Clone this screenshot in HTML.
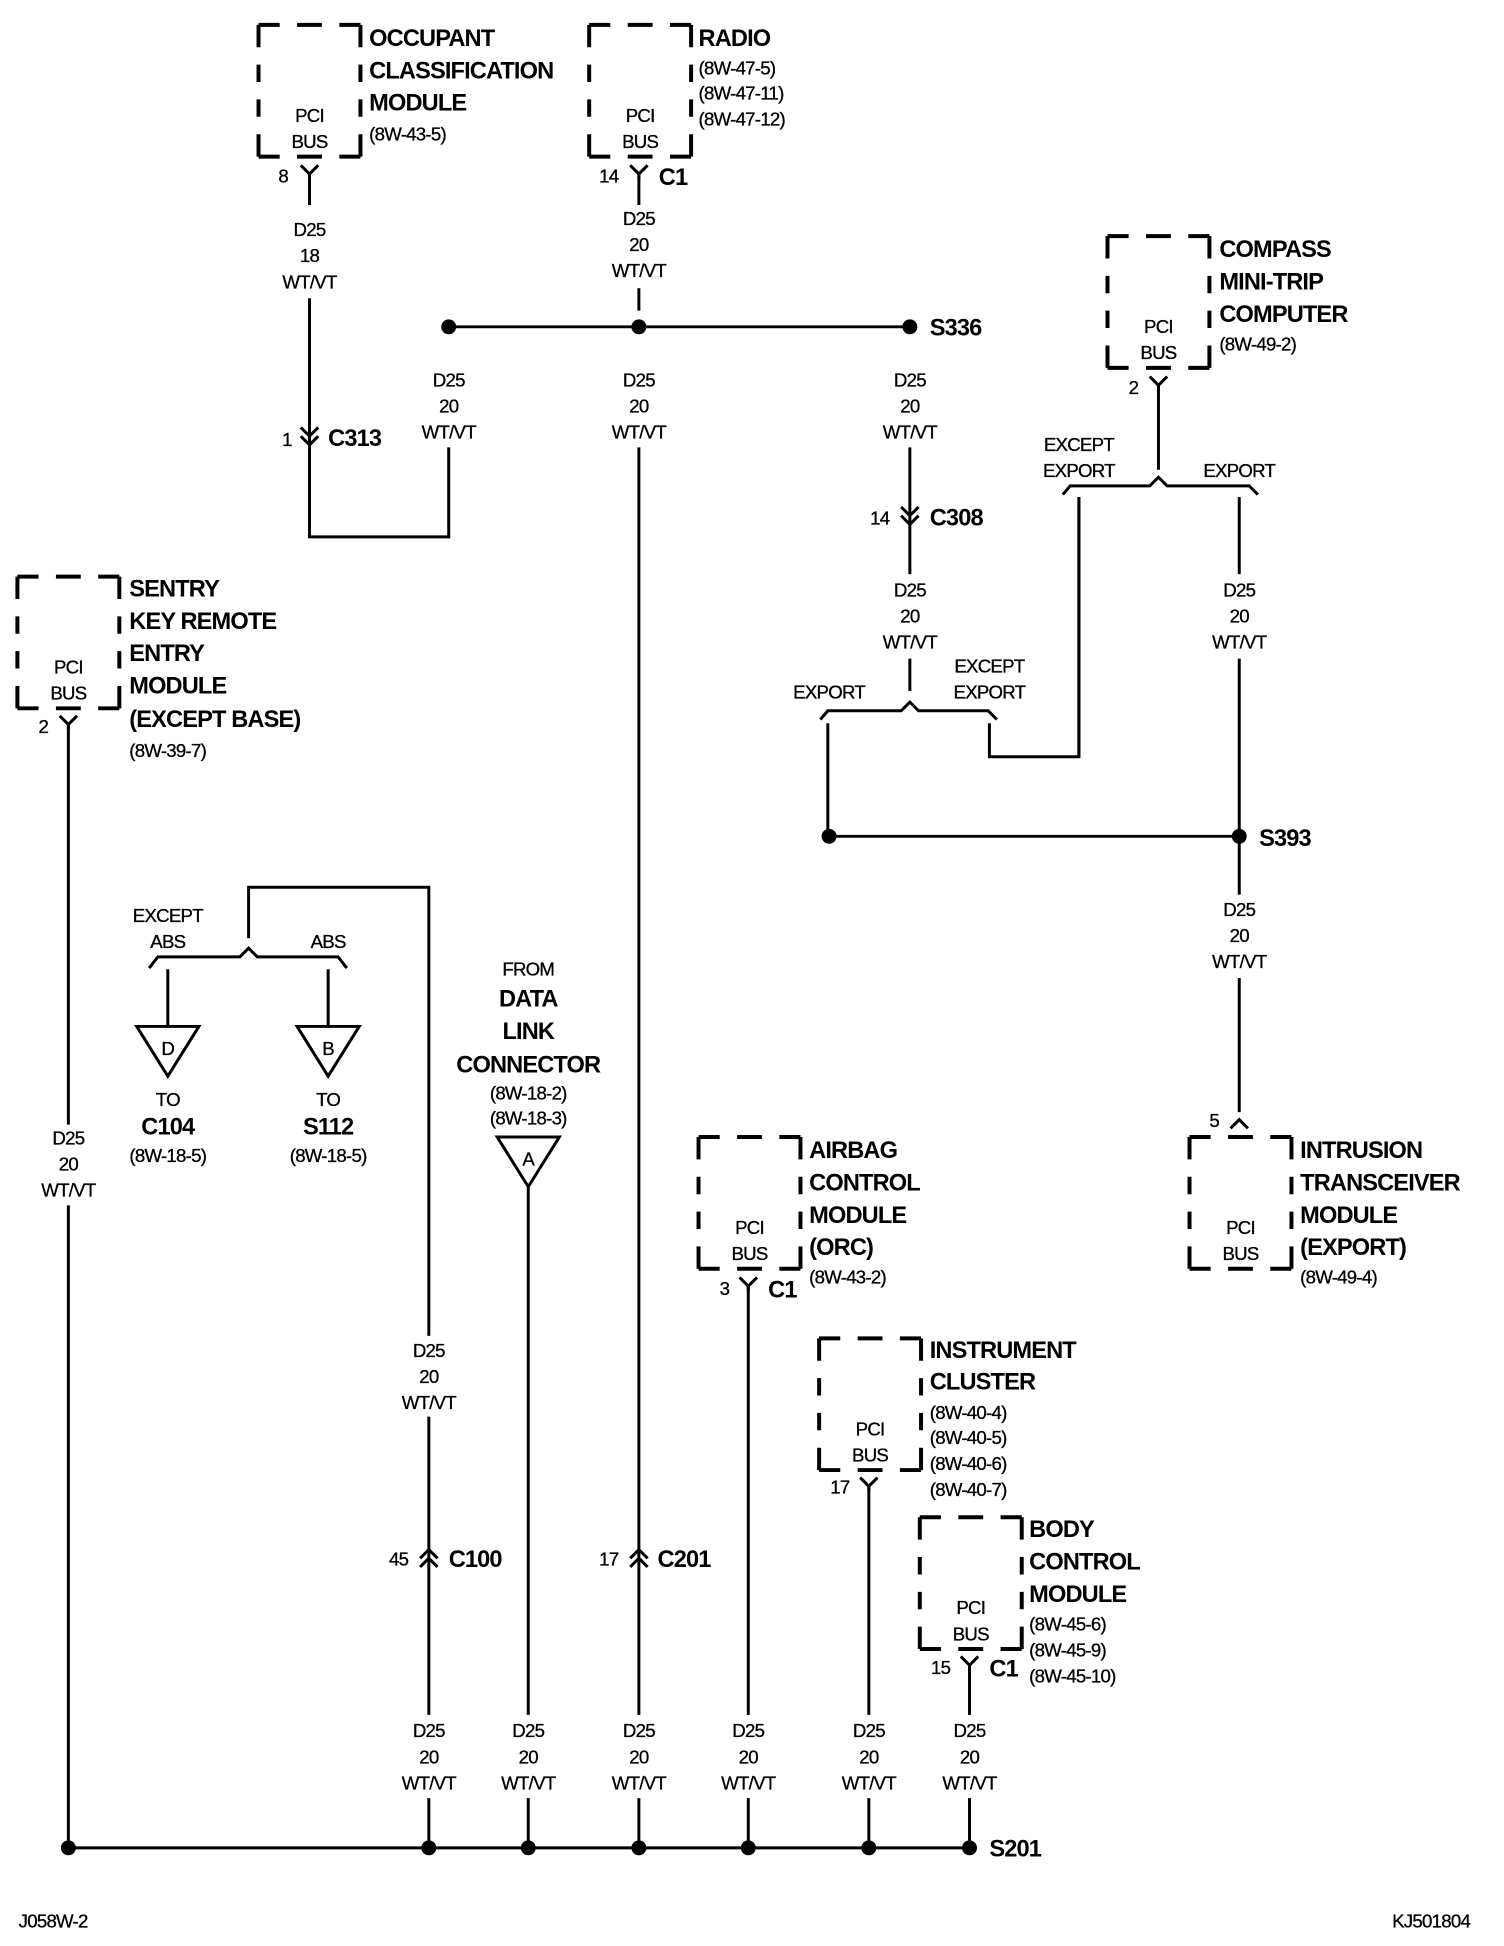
<!DOCTYPE html>
<html><head><meta charset="utf-8"><style>
html,body{margin:0;padding:0;background:#fff;}
svg{display:block;}
.w{stroke:#000;stroke-width:2.4;fill:none;}
.bx{stroke:#000;stroke-width:3.2;fill:none;}
.h{stroke-dasharray:17 14 20 14 17 40;}
.v{stroke-dasharray:18 14 14 14 14 14 18 40;}
text{font-family:"Liberation Sans",sans-serif;fill:#000;}
.s{font-size:15px;letter-spacing:-0.6px;stroke:#000;stroke-width:0.25;}
.b{font-size:19px;font-weight:bold;letter-spacing:-0.7px;}
.m{text-anchor:middle;}
</style></head><body>
<svg width="1504" height="1946" viewBox="0 0 1210 1566" preserveAspectRatio="none" xmlns="http://www.w3.org/2000/svg">
<defs>
<g id="box">
<path class="bx h" d="M0 0 h82"/><path class="bx h" d="M0 106 h82"/>
<path class="bx v" d="M0 0 v106"/><path class="bx v" d="M82 0 v106"/>
<text class="s m" x="41" y="78">PCI</text><text class="s m" x="41" y="99">BUS</text>
</g>
<path id="pin" class="w" d="M-7 -5 L0 2 L7 -5 M0 2 V6"/>
<path id="cdn" class="w" d="M-7 -8 L0 -1 L7 -8 M-7 -1 L0 6 L7 -1"/>
<path id="cup" class="w" d="M-7 8 L0 1 L7 8 M-7 1 L0 -6 L7 1"/>
<g id="lbl"><text class="s m" x="0" y="0">D25</text><text class="s m" x="0" y="21">20</text><text class="s m" x="0" y="42">WT/VT</text></g>
</defs>

<!-- Occupant -->
<use href="#box" x="208" y="20"/>
<text class="b" x="297" y="37">OCCUPANT</text><text class="b" x="297" y="63">CLASSIFICATION</text><text class="b" x="297" y="89">MODULE</text>
<text class="s" x="297" y="113">(8W-43-5)</text>
<use href="#pin" x="249" y="138"/><text class="s" x="224" y="147">8</text>
<path class="w" d="M249 140 V165"/>
<text class="s m" x="249" y="190">D25</text><text class="s m" x="249" y="211">18</text><text class="s m" x="249" y="232">WT/VT</text>
<path class="w" d="M249 240 V432 H361 V360"/>
<use href="#cdn" x="249" y="352"/><text class="s" x="227" y="359">1</text><text class="b" x="264" y="359">C313</text>
<use href="#lbl" x="361" y="311"/>

<!-- Radio -->
<use href="#box" x="474" y="20"/>
<text class="b" x="562" y="37">RADIO</text>
<text class="s" x="562" y="60">(8W-47-5)</text><text class="s" x="562" y="80">(8W-47-11)</text><text class="s" x="562" y="101">(8W-47-12)</text>
<use href="#pin" x="514" y="138"/><text class="s" x="482" y="147">14</text><text class="b" x="530" y="149">C1</text>
<path class="w" d="M514 140 V165"/>
<use href="#lbl" x="514" y="181"/>
<path class="w" d="M514 232 V250 M361 263 H732 M514 360 V1380 M514 1447 V1487"/>
<circle cx="361" cy="263" r="6"/><circle cx="514" cy="263" r="6"/><circle cx="732" cy="263" r="6"/>
<text class="b" x="748" y="270">S336</text>
<use href="#lbl" x="514" y="311"/>
<use href="#cup" x="514" y="1253"/><text class="s" x="482" y="1260">17</text><text class="b" x="529" y="1261">C201</text>

<!-- S336 down -->
<use href="#lbl" x="732" y="311"/>
<path class="w" d="M732 360 V462 M732 530 V556"/>
<use href="#cdn" x="732" y="416"/><text class="s" x="700" y="422">14</text><text class="b" x="748" y="423">C308</text>
<use href="#lbl" x="732" y="480"/>
<path class="w" d="M660 579 L666 572 H725 L732 565 L739 572 H795 L802 579 M666 582 V673 M796 582 V609 H868 V400"/>
<text class="s m" x="667" y="562">EXPORT</text>
<text class="s m" x="796" y="541">EXCEPT</text><text class="s m" x="796" y="562">EXPORT</text>

<!-- Compass -->
<use href="#box" x="891" y="190"/>
<text class="b" x="981" y="207">COMPASS</text><text class="b" x="981" y="233">MINI-TRIP</text><text class="b" x="981" y="259">COMPUTER</text>
<text class="s" x="981" y="282">(8W-49-2)</text>
<use href="#pin" x="932" y="308"/><text class="s" x="908" y="317">2</text>
<path class="w" d="M932 310 V378 M855 398 L861 391 H925 L932 384 L939 391 H1005 L1012 398 M868 400 V609 M997 400 V462"/>
<text class="s m" x="868" y="363">EXCEPT</text><text class="s m" x="868" y="384">EXPORT</text>
<text class="s m" x="997" y="384">EXPORT</text>
<use href="#lbl" x="997" y="480"/>
<path class="w" d="M997 530 V720 M997 787 V895 M667 673 H997"/>
<circle cx="667" cy="673" r="6"/><circle cx="997" cy="673" r="6"/>
<text class="b" x="1013" y="681">S393</text>
<use href="#lbl" x="997" y="737"/>

<!-- Intrusion -->
<path class="w" d="M990 908 L997 901 L1004 908"/><text class="s" x="973" y="907">5</text>
<use href="#box" x="957" y="915"/>
<text class="b" x="1046" y="932">INTRUSION</text><text class="b" x="1046" y="958">TRANSCEIVER</text><text class="b" x="1046" y="984">MODULE</text><text class="b" x="1046" y="1010">(EXPORT)</text>
<text class="s" x="1046" y="1033">(8W-49-4)</text>

<!-- Sentry -->
<use href="#box" x="14" y="464"/>
<text class="b" x="104" y="480">SENTRY</text><text class="b" x="104" y="506">KEY REMOTE</text><text class="b" x="104" y="532">ENTRY</text><text class="b" x="104" y="558">MODULE</text><text class="b" x="104" y="585">(EXCEPT BASE)</text>
<text class="s" x="104" y="609">(8W-39-7)</text>
<use href="#pin" x="55" y="581"/><text class="s" x="31" y="590">2</text>
<path class="w" d="M55 583 V905 M55 970 V1487"/>
<use href="#lbl" x="55" y="921"/>

<!-- ABS branch -->
<path class="w" d="M345 1075 V714 H200 V755 M120 779 L127 770 H193 L200 763 L207 770 H272 L279 779 M135 780 V826 M264 780 V826"/>
<text class="s m" x="135" y="742">EXCEPT</text><text class="s m" x="135" y="763">ABS</text><text class="s m" x="264" y="763">ABS</text>
<path class="w" d="M110 826 H160 L135 866 Z M239 826 H289 L264 866 Z"/>
<text class="s m" x="135" y="849">D</text><text class="s m" x="264" y="849">B</text>
<text class="s m" x="135" y="890">TO</text><text class="b m" x="135" y="913">C104</text><text class="s m" x="135" y="935">(8W-18-5)</text>
<text class="s m" x="264" y="890">TO</text><text class="b m" x="264" y="913">S112</text><text class="s m" x="264" y="935">(8W-18-5)</text>
<use href="#lbl" x="345" y="1092"/>
<path class="w" d="M345 1140 V1380"/>
<use href="#cup" x="345" y="1253"/><text class="s" x="313" y="1260">45</text><text class="b" x="361" y="1261">C100</text>

<!-- Data link -->
<text class="s m" x="425" y="785">FROM</text>
<text class="b m" x="425" y="810">DATA</text><text class="b m" x="425" y="836">LINK</text><text class="b m" x="425" y="863">CONNECTOR</text>
<text class="s m" x="425" y="885">(8W-18-2)</text><text class="s m" x="425" y="905">(8W-18-3)</text>
<path class="w" d="M400 915 H450 L425 955 Z M425 955 V1380"/>
<text class="s m" x="425" y="938">A</text>

<!-- Airbag -->
<use href="#box" x="562" y="915"/>
<text class="b" x="651" y="932">AIRBAG</text><text class="b" x="651" y="958">CONTROL</text><text class="b" x="651" y="984">MODULE</text><text class="b" x="651" y="1010">(ORC)</text>
<text class="s" x="651" y="1033">(8W-43-2)</text>
<use href="#pin" x="602" y="1033"/><text class="s" x="579" y="1042">3</text><text class="b" x="618" y="1044">C1</text>
<path class="w" d="M602 1035 V1380"/>

<!-- Instrument cluster -->
<use href="#box" x="659" y="1077"/>
<text class="b" x="748" y="1093">INSTRUMENT</text><text class="b" x="748" y="1118">CLUSTER</text>
<text class="s" x="748" y="1142">(8W-40-4)</text><text class="s" x="748" y="1162">(8W-40-5)</text><text class="s" x="748" y="1183">(8W-40-6)</text><text class="s" x="748" y="1204">(8W-40-7)</text>
<use href="#pin" x="699" y="1194"/><text class="s" x="668" y="1202">17</text>
<path class="w" d="M699 1196 V1380"/>

<!-- Body control -->
<use href="#box" x="740" y="1221"/>
<text class="b" x="828" y="1237">BODY</text><text class="b" x="828" y="1263">CONTROL</text><text class="b" x="828" y="1289">MODULE</text>
<text class="s" x="828" y="1312">(8W-45-6)</text><text class="s" x="828" y="1333">(8W-45-9)</text><text class="s" x="828" y="1354">(8W-45-10)</text>
<use href="#pin" x="780" y="1338"/><text class="s" x="749" y="1347">15</text><text class="b" x="796" y="1349">C1</text>
<path class="w" d="M780 1340 V1380"/>

<!-- bottom labels -->
<use href="#lbl" x="345" y="1398"/><use href="#lbl" x="425" y="1398"/><use href="#lbl" x="514" y="1398"/>
<use href="#lbl" x="602" y="1398"/><use href="#lbl" x="699" y="1398"/><use href="#lbl" x="780" y="1398"/>
<path class="w" d="M345 1447 V1487 M425 1447 V1487 M602 1447 V1487 M699 1447 V1487 M780 1447 V1487 M55 1487 H780"/>
<g>
<circle cx="55" cy="1487" r="6"/><circle cx="345" cy="1487" r="6"/><circle cx="425" cy="1487" r="6"/><circle cx="514" cy="1487" r="6"/>
<circle cx="602" cy="1487" r="6"/><circle cx="699" cy="1487" r="6"/><circle cx="780" cy="1487" r="6"/>
</g>
<text class="b" x="796" y="1494">S201</text>
<text class="s" x="15" y="1551">J058W-2</text>
<text class="s" x="1120" y="1551">KJ501804</text>
</svg>
</body></html>
